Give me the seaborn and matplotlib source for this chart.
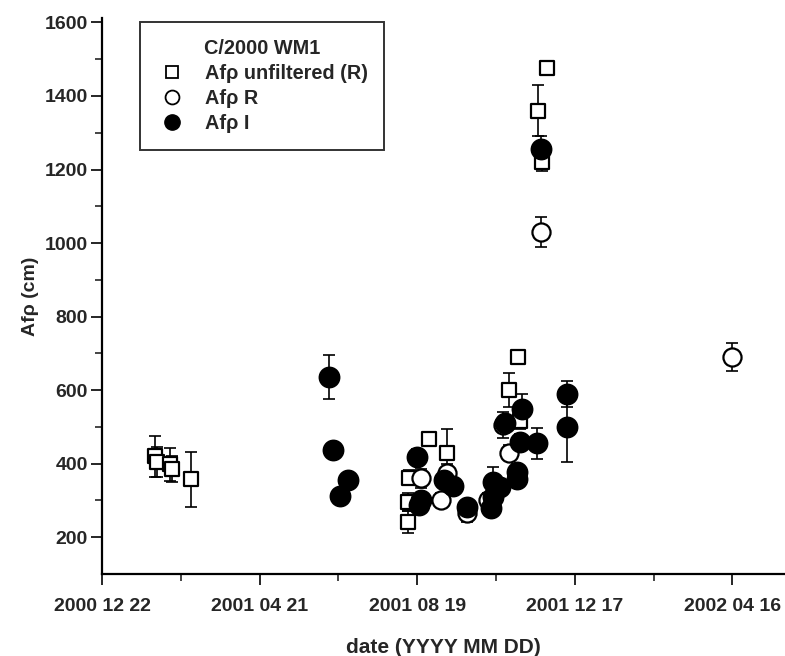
import matplotlib
matplotlib.use("Agg")
import matplotlib.pyplot as plt
import matplotlib.dates as mdates
from matplotlib.lines import Line2D
import seaborn as sns
import pandas as pd

# ---- data ----
sq_dates = ["2001-01-31", "2001-02-02", "2001-02-12", "2001-02-13", "2001-02-28",
            "2001-08-12", "2001-08-12", "2001-08-13", "2001-08-28", "2001-09-11",
            "2001-10-28", "2001-11-04", "2001-11-05", "2001-11-19", "2001-11-22",
            "2001-11-26"]
sq_vals = [420, 405, 398, 385, 358, 295, 242, 362, 468, 428,
           600, 690, 515, 1360, 1220, 1475]
sq_err = [55, 40, 45, 35, 75, 25, 30, 20, 10, 65,
          47, 10, 20, 70, 25, 10]

r_dates = ["2001-08-22", "2001-09-06", "2001-09-11", "2001-09-26", "2001-10-12",
           "2001-10-23", "2001-10-28", "2001-11-21", "2002-04-16"]
r_vals = [360, 301, 375, 266, 300, 505, 430, 1030, 690]
r_err = [25, 20, 25, 25, 20, 35, 20, 40, 38]

i_dates = ["2001-06-13", "2001-06-16", "2001-06-21", "2001-06-27", "2001-08-19",
           "2001-08-20", "2001-08-22", "2001-09-08", "2001-09-15", "2001-09-26",
           "2001-10-14", "2001-10-16", "2001-10-16", "2001-10-21", "2001-10-25",
           "2001-11-03", "2001-11-03", "2001-11-05", "2001-11-07", "2001-11-18",
           "2001-11-21", "2001-12-11", "2001-12-11"]
i_vals = [635, 438, 312, 355, 419, 288, 300, 355, 340, 282,
          280, 350, 310, 337, 510, 378, 358, 460, 550, 455,
          1255, 590, 500]
i_err = [60, 0, 0, 0, 20, 15, 15, 20, 15, 20,
         15, 40, 15, 15, 20, 20, 20, 20, 40, 42,
         35, 35, 95]

series_names = ["Af\u03c1 unfiltered (R)", "Af\u03c1 R", "Af\u03c1 I"]
tick_dates = ["2000-12-22", "2001-04-21", "2001-08-19", "2001-12-17", "2002-04-16"]

# ---- build table ----
frames = []
for name, d, v, e in zip(series_names, [sq_dates, r_dates, i_dates],
                         [sq_vals, r_vals, i_vals], [sq_err, r_err, i_err]):
    frames.append(pd.DataFrame({"date": pd.to_datetime(d), "Afrho": v,
                                "err": e, "series": name}))
df = pd.concat(frames, ignore_index=True)

sns.set_style("ticks")
plt.rcParams["font.family"] = ["Liberation Sans", "DejaVu Sans"]
plt.rcParams["font.weight"] = "bold"

fig = plt.figure(figsize=(7.85, 6.56), dpi=100)
ax = fig.add_axes([102 / 785, 82 / 656, 1 - 102 / 785, (656 - 82 - 18) / 656])

# error bars
for name in series_names:
    sub = df[(df.series == name) & (df.err > 0)]
    ax.errorbar(sub["date"], sub["Afrho"], yerr=sub["err"], fmt="none",
                ecolor="black", elinewidth=1.2, capsize=4.3, capthick=1.2, zorder=1)

markers = {series_names[0]: "s", series_names[1]: "o", series_names[2]: "o"}
sizes = {series_names[0]: 110, series_names[1]: 170, series_names[2]: 200}
faces = {series_names[0]: "white", series_names[1]: "white", series_names[2]: "black"}

for name in series_names:
    sub = df[df.series == name]
    sns.scatterplot(data=sub, x="date", y="Afrho", marker=markers[name],
                    s=sizes[name], color=faces[name], edgecolor="black",
                    linewidth=1.6, ax=ax, zorder=3 if name == series_names[2] else 2,
                    legend=False)

# axes
ax.set_xlim(pd.Timestamp("2000-12-22"), pd.Timestamp("2002-05-26"))
ax.set_ylim(100, 1612)
td = pd.to_datetime(tick_dates)
ax.set_xticks(td)
ax.set_xticks(td[:-1] + pd.Timedelta(days=60), minor=True)
ax.xaxis.set_major_formatter(mdates.DateFormatter("%Y %m %d"))
ax.set_yticks([200, 400, 600, 800, 1000, 1200, 1400, 1600])
ax.set_yticks([300, 500, 700, 900, 1100, 1300, 1500], minor=True)
ax.tick_params(axis="both", which="major", length=8, width=1.4, labelsize=14)
ax.tick_params(axis="both", which="minor", length=5, width=1.2)
ax.tick_params(axis="x", pad=9)
ax.tick_params(axis="y", pad=2)
for lab in ax.get_xticklabels() + ax.get_yticklabels():
    lab.set_fontweight("bold")
sns.despine(ax=ax)
for s in ["left", "bottom"]:
    ax.spines[s].set_linewidth(1.6)
    ax.spines[s].set_color("black")

ax.set_xlabel("date (YYYY MM DD)", fontsize=15, fontweight="bold", labelpad=17)
ax.set_ylabel("Af\u03c1 (cm)", fontsize=14, fontweight="bold", labelpad=4)

# legend
handles = [
    Line2D([], [], marker="s", ls="none", mfc="white", mec="black", ms=9, mew=1.3),
    Line2D([], [], marker="o", ls="none", mfc="white", mec="black", ms=10, mew=1.3),
    Line2D([], [], marker="o", ls="none", mfc="black", mec="black", ms=11),
]
leg = ax.legend(handles, series_names, title="C/2000 WM1", loc="upper left",
                bbox_to_anchor=((140 - 102) / 683, 1 - 4 / 556), borderaxespad=0,
                frameon=True, fancybox=False,
                edgecolor="black", fontsize=14.3, title_fontsize=14.3,
                handletextpad=0.9, borderpad=0.85, labelspacing=0.3,
                handlelength=1.5)
leg.get_frame().set_linewidth(1.4)
leg.get_title().set_fontweight("bold")
for t in leg.get_texts():
    t.set_fontweight("bold")

fig.savefig("out.png", dpi=100)
